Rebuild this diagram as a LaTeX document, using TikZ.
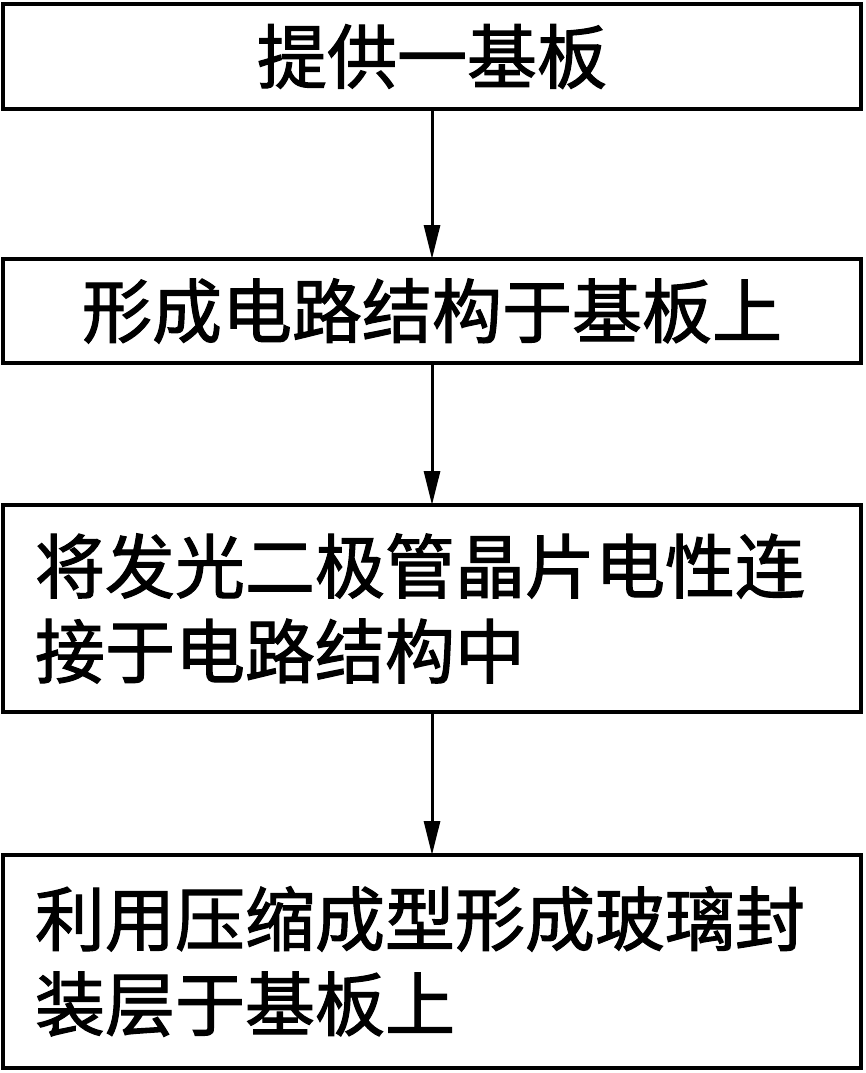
\documentclass[tikz,border=0pt]{standalone}
\usepackage{fontspec}
\newfontfamily\cjk[FakeBold=1.6]{Noto Sans CJK SC}
\usetikzlibrary{arrows.meta}
\tikzset{
  stepbox/.style={draw, line width=4pt, minimum width=858pt, inner sep=0pt, outer sep=0pt,
    font=\cjk\fontsize{70}{85}\selectfont},
  leftbox/.style={stepbox, align=left, text width=794pt},
  flow/.style={line width=3pt, -{Triangle[length=34pt,width=16pt]}}
}
\begin{document}
\begin{tikzpicture}[x=1pt,y=-1pt]
        \useasboundingbox (0,0) rectangle (866,1073);
        \node[stepbox, minimum height=105pt] (s1) at (432,56.5) {\raisebox{3pt}{提供一基板}};
        \node[stepbox, minimum height=104pt] (s2) at (432,311) {形成电路结构于基板上};
        \node[leftbox, minimum height=207pt] (s3) at (432,608.5) {将发光二极管晶片电性连\\接于电路结构中};
        \node[leftbox, minimum height=213pt] (s4) at (432,961.5) {利用压缩成型形成玻璃封\\装层于基板上};
        \draw[flow] (s1) -- (s2);
        \draw[flow] (s2) -- (s3);
        \draw[flow] (s3) -- (s4);
    \end{tikzpicture}
\end{document}
